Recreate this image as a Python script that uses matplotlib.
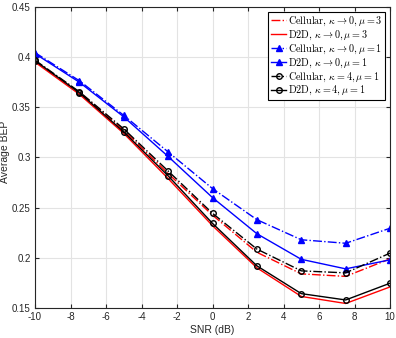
import matplotlib
matplotlib.use("Agg")
import matplotlib.pyplot as plt

plt.rcParams["font.family"] = ["Liberation Sans", "DejaVu Sans"]
plt.rcParams["mathtext.fontset"] = "cm"
plt.rcParams["axes.unicode_minus"] = False

snr = [-10, -7.5, -5, -2.5, 0, 2.5, 5, 7.5, 10]

cell_k0_mu3 = [0.396, 0.365, 0.327, 0.284, 0.2425, 0.2055, 0.184, 0.1815, 0.199]
d2d_k0_mu3 = [0.395, 0.363, 0.324, 0.279, 0.232, 0.190, 0.1615, 0.1545, 0.171]
cell_k0_mu1 = [0.4045, 0.3765, 0.342, 0.3055, 0.269, 0.238, 0.218, 0.2145, 0.2295]
d2d_k0_mu1 = [0.4035, 0.375, 0.3405, 0.301, 0.260, 0.224, 0.1985, 0.189, 0.198]
cell_k4_mu1 = [0.397, 0.3655, 0.3285, 0.2865, 0.2443, 0.2087, 0.187, 0.185, 0.2047]
d2d_k4_mu1 = [0.3965, 0.3645, 0.3255, 0.2817, 0.2343, 0.192, 0.1643, 0.158, 0.1747]

labels = [
    r"$\mathrm{Cellular},\,\kappa\rightarrow 0, \mu=3$",
    r"$\mathrm{D2D},\,\kappa\rightarrow 0, \mu=3$",
    r"$\mathrm{Cellular},\,\kappa\rightarrow 0, \mu=1$",
    r"$\mathrm{D2D},\,\kappa\rightarrow 0, \mu=1$",
    r"$\mathrm{Cellular},\,\kappa=4, \mu=1$",
    r"$\mathrm{D2D},\,\kappa=4, \mu=1$",
]

xticks = [-10, -8, -6, -4, -2, 0, 2, 4, 6, 8, 10]
yticks = [0.15, 0.2, 0.25, 0.3, 0.35, 0.4, 0.45]
ytick_labels = ["0.15", "0.2", "0.25", "0.3", "0.35", "0.4", "0.45"]

fig = plt.figure(figsize=(3.96, 3.38), dpi=100)
ax = fig.add_axes([0.0884, 0.0888, 0.8966, 0.8905])

ax.plot(snr, cell_k0_mu3, color="red", linestyle="-.", linewidth=1.0, label=labels[0])
ax.plot(snr, d2d_k0_mu3, color="red", linestyle="-", linewidth=1.0, label=labels[1])
ax.plot(snr, cell_k0_mu1, color="blue", linestyle="-.", linewidth=1.0,
        marker="^", markersize=4.5, label=labels[2])
ax.plot(snr, d2d_k0_mu1, color="blue", linestyle="-", linewidth=1.0,
        marker="^", markersize=4.5, label=labels[3])
ax.plot(snr, cell_k4_mu1, color="black", linestyle="-.", linewidth=1.0,
        marker="o", markersize=4, markerfacecolor="none", label=labels[4])
ax.plot(snr, d2d_k4_mu1, color="black", linestyle="-", linewidth=1.0,
        marker="o", markersize=4, markerfacecolor="none", label=labels[5])

ax.set_xlim(-10, 10)
ax.set_ylim(0.15, 0.45)
ax.set_xticks(xticks)
ax.set_yticks(yticks)
ax.set_yticklabels(ytick_labels)
ax.tick_params(direction="in", length=3, width=0.8, labelsize=7,
               top=True, right=True, colors="#262626", pad=3)
ax.grid(True, color="#e3e3e3", linewidth=0.8)
ax.set_axisbelow(True)
for spine in ax.spines.values():
    spine.set_color("#262626")
    spine.set_linewidth(0.8)

ax.set_xlabel("SNR (dB)", fontsize=7.5, color="#262626", labelpad=2)
ax.set_ylabel("Average BEP", fontsize=7.5, color="#262626")
ax.yaxis.set_label_coords(-0.07, 0.52)

legend = ax.legend(loc="upper right", fontsize=7.3, handlelength=1.5,
                   handletextpad=0.2, labelspacing=0.05, borderpad=0.3,
                   borderaxespad=0.45, fancybox=False, framealpha=1)
legend.get_frame().set_edgecolor("black")
legend.get_frame().set_linewidth(0.8)

fig.savefig("out.png", dpi=100)
